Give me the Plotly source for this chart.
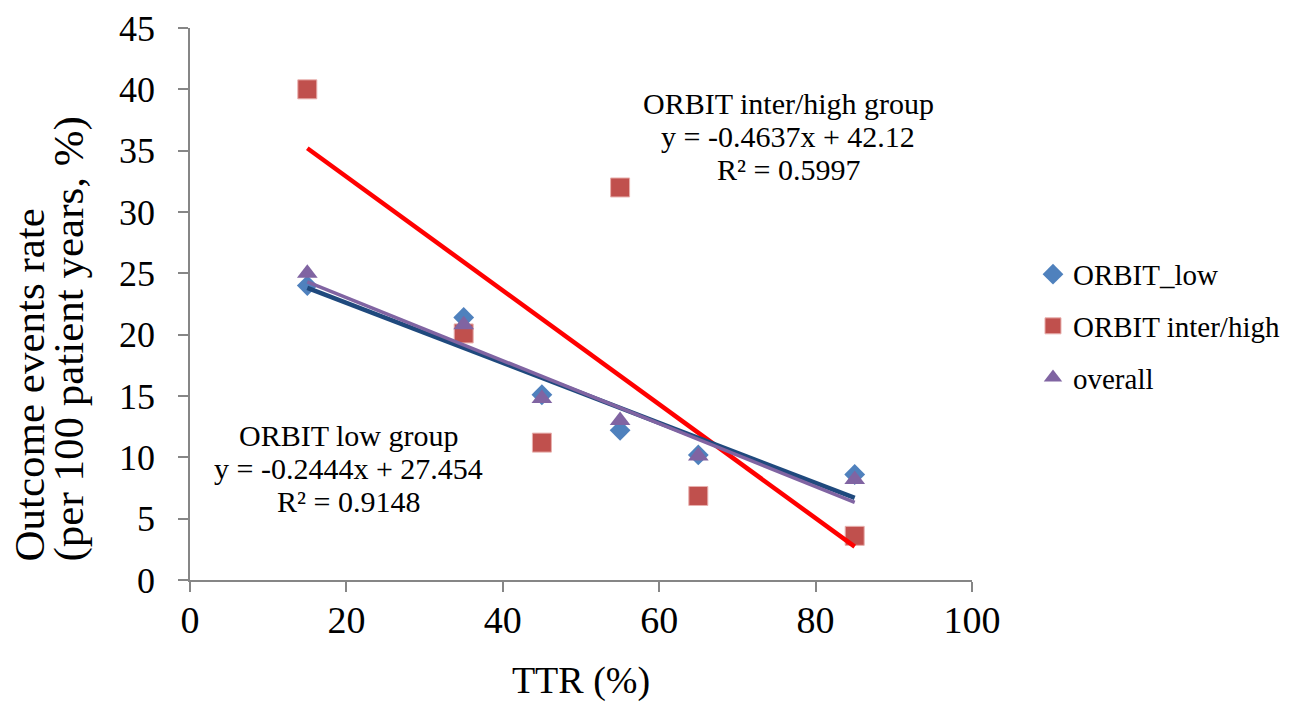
import numpy as np
import plotly.graph_objects as go

# ---- data ----
ttr = [15, 35, 45, 55, 65, 85]
orbit_low = [24.0, 21.4, 15.1, 12.2, 10.2, 8.6]
orbit_high = [40.0, 20.1, 11.2, 32.0, 6.85, 3.6]
overall = [25.0, 20.8, 14.8, 13.0, 10.1, 8.2]

x_ticks = [0, 20, 40, 60, 80, 100]
y_ticks = [0, 5, 10, 15, 20, 25, 30, 35, 40, 45]

high_label = ["ORBIT inter/high group", "y = -0.4637x + 42.12", "R² = 0.5997"]
low_label = ["ORBIT low group", "y = -0.2444x + 27.454", "R² = 0.9148"]
y_title_lines = ["Outcome events rate", "(per 100 patient years, %)"]

FONT = "Liberation Serif"
AXIS_COL = "#868686"

# plot area in pixels
L, R, T, B = 190, 326, 28, 122
W, H = 1298, 702
PW, PH = W - L - R, H - T - B

def px_x(px):
    return (px - L) / PW

def px_y(py):
    return (H - B - py) / PH

fig = go.Figure()

fig.add_trace(go.Scatter(x=ttr, y=orbit_low, mode="markers", name="ORBIT_low", legendgroup="a",
                         marker=dict(symbol="diamond", size=16, color="#4F81BD",
                                     line=dict(width=0))))
fig.add_trace(go.Scatter(x=ttr, y=orbit_high, mode="markers", name="ORBIT inter/high", legendgroup="b",
                         marker=dict(symbol="square", size=19, color="#C0504D",
                                     line=dict(width=1, color="#E8B0AE"))))
fig.add_trace(go.Scatter(x=ttr, y=overall, mode="markers", name="overall", legendgroup="c",
                         marker=dict(symbol="triangle-up", size=18, color="#8064A2",
                                     line=dict(width=0))))

# linear trend lines (least squares fits of the series)
xs = np.array([min(ttr), max(ttr)], dtype=float)
for vals, col, w in [(orbit_high, "#FF0000", 4.5), (orbit_low, "#1F497D", 4.5), (overall, "#8064A2", 3.5)]:
    m, b = np.polyfit(ttr, vals, 1)
    fig.add_trace(go.Scatter(x=xs, y=m * xs + b, mode="lines", showlegend=False,
                             line=dict(color=col, width=w), hoverinfo="skip"))

ann_font = dict(family=FONT, size=30, color="black")
for i, t in enumerate(high_label):
    fig.add_annotation(x=px_x(788), y=px_y(103 + 33 * i), xref="paper", yref="paper",
                       showarrow=False, font=ann_font, text=t, xanchor="center", yanchor="middle")
for i, t in enumerate(low_label):
    fig.add_annotation(x=px_x(348), y=px_y(435 + 33 * i), xref="paper", yref="paper",
                       showarrow=False, font=ann_font, text=t, xanchor="center", yanchor="middle")

# y-axis title (two lines, bottom aligned as in the reference)
for i, t in enumerate(y_title_lines):
    fig.add_annotation(x=px_x(29 + 39 * i), y=px_y(564), xref="paper", yref="paper",
                       showarrow=False, textangle=-90, text=t,
                       font=dict(family=FONT, size=43, color="black"),
                       xanchor="center", yanchor="bottom")

fig.update_layout(
    width=W, height=H,
    margin=dict(l=L, r=R, t=T, b=B, autoexpand=False),
    plot_bgcolor="white", paper_bgcolor="white",
    font=dict(family=FONT, size=30, color="black"),
    showlegend=True,
    legend=dict(x=1.078, y=0.6, xanchor="left", yanchor="top",
                font=dict(family=FONT, size=29), itemsizing="trace",
                tracegroupgap=11, bgcolor="rgba(0,0,0,0)"),
    xaxis=dict(range=[0, 100], tickvals=x_ticks, showgrid=False, zeroline=False,
               showline=True, linecolor=AXIS_COL, linewidth=1.5, automargin=False,
               ticks="outside", ticklen=10, tickcolor=AXIS_COL, tickwidth=1.5,
               tickfont=dict(family=FONT, size=38), ticklabelstandoff=-4,
               title=dict(text="TTR (%)", font=dict(family=FONT, size=38), standoff=28)),
    yaxis=dict(range=[0, 45], tickvals=y_ticks, showgrid=False, zeroline=False,
               showline=True, linecolor=AXIS_COL, linewidth=1.5, automargin=False,
               ticks="outside", ticklen=10, tickcolor=AXIS_COL, tickwidth=1.5,
               tickfont=dict(family=FONT, size=36), ticklabelstandoff=16),
)

fig.write_html("out.html")
